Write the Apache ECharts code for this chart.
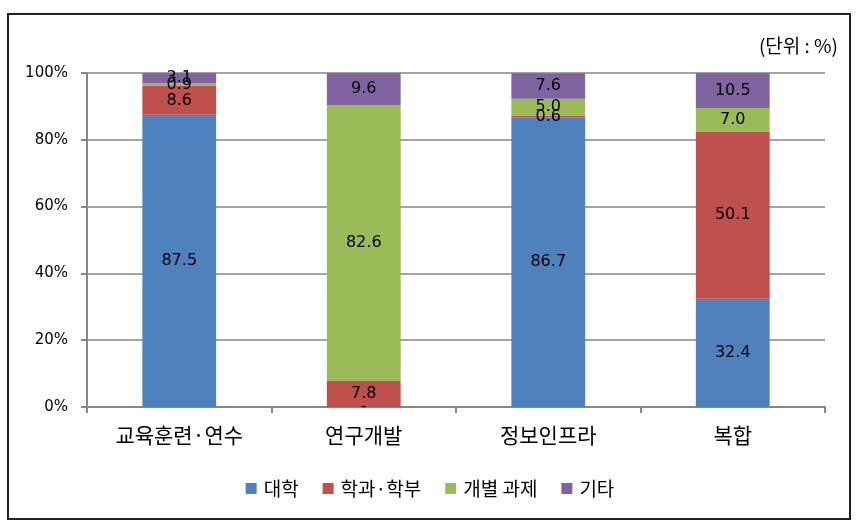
<!DOCTYPE html>
<html><head><meta charset="utf-8">
<script src="https://cdn.jsdelivr.net/npm/echarts@6/dist/echarts.min.js"></script>
<style>html,body{margin:0;padding:0;background:#fff}#c{width:860px;height:529px}</style>
</head><body><div id="c"></div>
<script>
const categories = ['교육훈련·연수', '연구개발', '정보인프라', '복합'];
const seriesNames = ['대학', '학과·학부', '개별 과제', '기타'];
const univ = [87.5, 0, 86.7, 32.4];
const dept = [8.6, 7.8, 0.6, 50.1];
const task = [0.9, 82.6, 5.0, 7.0];
const other = [3.1, 9.6, 7.6, 10.5];
const yTicks = [0, 20, 40, 60, 80, 100];
const colors = ['#4F81BD', '#C0504D', '#9BBB59', '#8064A2'];

const values = [univ, dept, task, other];
const chart = echarts.init(document.getElementById('c'));
const kfont = "'Noto Sans CJK KR', sans-serif";
const nfont = "'DejaVu Sans', sans-serif";
chart.setOption({
  animation: false,
  graphic: [
    {type: 'rect', shape: {x: 8, y: 14, width: 842, height: 505}, style: {fill: 'none', stroke: '#222', lineWidth: 2}, z: 0},
    {type: 'text', right: 22, top: 36, style: {text: '(단위 : %)', font: "19px 'Noto Sans CJK KR'", fill: '#000'}}
  ],
  grid: {left: 87, right: 35, top: 73, bottom: 122},
  legend: {
    data: seriesNames, bottom: 26, left: 'center', icon: 'rect', itemWidth: 11, itemHeight: 11, itemGap: 24,
    textStyle: {fontFamily: kfont, fontSize: 19, color: '#000', padding: [0, 0, 0, 2]}
  },
  xAxis: {
    type: 'category', data: categories,
    axisLine: {lineStyle: {color: '#868686', width: 2}},
    axisTick: {show: true, length: 6, lineStyle: {color: '#868686', width: 2}},
    axisLabel: {fontFamily: kfont, fontSize: 21, color: '#000', margin: 18}
  },
  yAxis: {
    type: 'value', min: 0, max: 100, interval: 20,
    axisLine: {show: true, lineStyle: {color: '#868686', width: 2}},
    axisTick: {show: true, length: 6, lineStyle: {color: '#868686', width: 2}},
    splitLine: {lineStyle: {color: '#868686', width: 1.5}},
    axisLabel: {fontFamily: nfont, fontSize: 15, color: '#000', margin: 19,
      formatter: v => yTicks.includes(v) ? v + '%' : ''}
  },
  series: seriesNames.map((n, i) => ({
    name: n, type: 'bar', stack: 'all', barWidth: '40%',
    itemStyle: {color: colors[i]},
    data: values[i],
    label: {show: true, position: 'inside', color: '#000', fontFamily: nfont, fontSize: 16,
      formatter: p => p.value === 0 ? '-' : p.value.toFixed(1)}
  }))
});
</script></body></html>
